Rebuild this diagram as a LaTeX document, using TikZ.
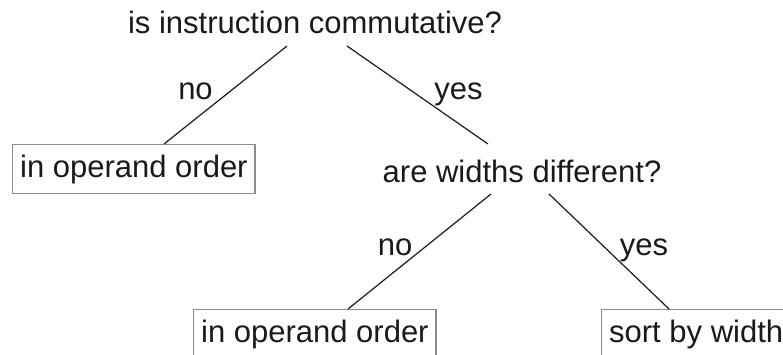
\documentclass[tikz,border=0pt]{standalone}
\usepackage{fontspec}
\setmainfont{Liberation Sans}
\usetikzlibrary{calc}
\definecolor{txt}{HTML}{1A1A1A}
\definecolor{boxgray}{HTML}{8C8C8C}
\begin{document}
\begin{tikzpicture}[x=1pt,y=-1pt,
  every node/.style={font=\fontsize{31}{37}\selectfont, text=txt},
  question/.style={anchor=base, inner sep=0pt},
  answer/.style={anchor=base, inner sep=0pt},
  leafbox/.style={draw=boxgray, line width=1.3pt, inner xsep=7.5pt, inner ysep=9.5pt,
    text height=23pt, text depth=7pt},
  branch/.style={draw=txt, line width=1.2pt}]
\useasboundingbox (0,0) rectangle (783,355);
\clip (0,0) rectangle (783,355);
\node[question] (q1) at (315,34) {is instruction commutative?};
\node[leafbox, anchor=north west] (b1) at (12,144) {in operand order};
\node[question] (q2) at (522,183) {are widths different?};
\node[leafbox, anchor=north west] (b2) at (193,309) {in operand order};
\node[leafbox, anchor=north west] (b3) at (601,309) {sort by width};
\node[answer] (n1) at (195.5,100) {no};
\node[answer] (y1) at (458.5,100) {yes};
\node[answer] (n2) at (395,255) {no};
\node[answer] (y2) at (644,255) {yes};
\draw[branch] ($(q1.base)+(-28,12)$) -- ($(b1.north west)+(152,0)$);
\draw[branch] ($(q1.base)+(32,12)$) -- ($(q2.base)+(-34,-39)$);
\draw[branch] ($(q2.base)+(-31,11)$) -- ($(b2.north west)+(155,0)$);
\draw[branch] ($(q2.base)+(27,11)$) -- ($(b3.north west)+(68,0)$);
\end{tikzpicture}
\end{document}
